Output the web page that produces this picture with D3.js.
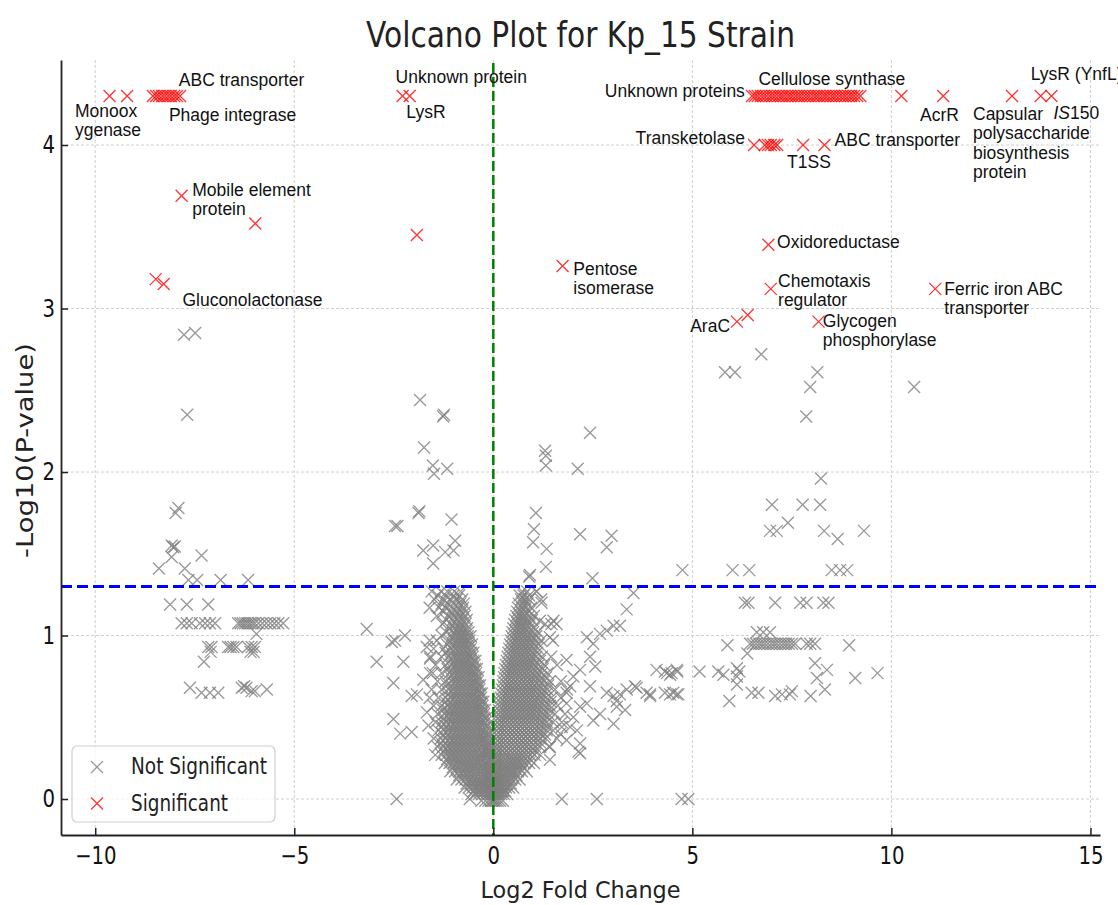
<!DOCTYPE html>
<html>
<head>
<meta charset="utf-8">
<script src="https://cdn.jsdelivr.net/npm/d3@7"></script>
<style>
body{margin:0;background:#fff;}
svg{display:block;}
</style>
</head>
<body>
<script>
// values (log2 fold change, -log10 p)
var sigPoints = [
  [-9.64,4.30],[-9.20,4.30],[-8.55,4.30],[-8.47,4.30],[-8.40,4.30],[-8.32,4.30],[-8.25,4.30],
  [-8.17,4.30],[-8.10,4.30],[-8.02,4.30],[-7.95,4.30],[-7.87,4.30],
  [-2.28,4.30],[-2.10,4.30],
  [-7.83,3.69],[-5.98,3.52],[-1.92,3.45],[-8.48,3.18],[-8.28,3.15],
  [6.50,4.30],[6.57,4.30],[6.64,4.30],[6.72,4.30],[6.79,4.30],[6.86,4.30],[6.94,4.30],[7.01,4.30],
  [7.08,4.30],[7.16,4.30],[7.23,4.30],[7.30,4.30],[7.38,4.30],[7.45,4.30],[7.52,4.30],[7.60,4.30],
  [7.67,4.30],[7.74,4.30],[7.82,4.30],[7.89,4.30],[7.96,4.30],[8.04,4.30],[8.11,4.30],[8.18,4.30],
  [8.26,4.30],[8.33,4.30],[8.40,4.30],[8.48,4.30],[8.55,4.30],[8.62,4.30],[8.70,4.30],[8.77,4.30],
  [8.84,4.30],[8.92,4.30],[8.99,4.30],[9.06,4.30],[9.14,4.30],[9.22,4.30],
  [10.25,4.30],[11.30,4.30],[13.03,4.30],[13.75,4.30],[14.02,4.30],
  [6.55,4.00],[6.82,4.00],[6.90,4.00],[6.97,4.00],[7.06,4.00],[7.13,4.00],[7.78,4.00],[8.32,4.00],
  [6.91,3.39],[6.97,3.12],[1.74,3.26],[11.10,3.12],[6.12,2.92],[6.39,2.96],[8.17,2.92]
];

var nsPoints = [
  // left group
  [-7.77,2.84],[-7.49,2.85],[-7.69,2.35],[-7.91,1.78],[-7.98,1.75],[-8.08,1.55],[-8.04,1.54],[-8.00,1.545],
  [-8.08,1.48],[-7.33,1.49],[-8.40,1.41],[-7.75,1.41],[-7.66,1.34],[-7.44,1.34],[-6.85,1.34],[-6.16,1.34],
  [-8.12,1.19],[-7.70,1.19],[-7.16,1.19],
  [-7.83,1.075],[-7.70,1.075],[-7.58,1.075],[-7.37,1.075],[-7.24,1.075],[-7.12,1.075],[-6.99,1.075],
  [-6.41,1.075],[-6.35,1.075],[-6.29,1.075],[-6.23,1.075],[-6.17,1.075],[-6.11,1.075],[-6.05,1.075],
  [-5.99,1.075],[-5.90,1.075],[-5.80,1.075],[-5.70,1.075],[-5.60,1.075],[-5.50,1.075],[-5.40,1.075],[-5.28,1.075],
  [-5.95,1.01],
  [-7.16,0.93],[-7.08,0.93],[-6.66,0.93],[-6.60,0.93],[-6.53,0.93],[-6.45,0.93],[-6.16,0.93],[-6.07,0.93],
  [-5.99,0.93],[-7.10,0.90],[-6.10,0.90],[-6.02,0.90],
  [-7.27,0.84],
  [-7.62,0.68],[-7.33,0.65],[-7.12,0.65],[-6.91,0.65],[-6.32,0.68],[-6.26,0.69],[-6.20,0.68],[-6.07,0.66],
  [-5.99,0.66],[-5.69,0.67],
  // left of the cone
  [-3.18,1.04],[-2.55,0.96],[-2.47,0.97],[-2.22,1.00],[-2.93,0.84],[-2.26,0.84],[-2.51,0.71],[-2.51,0.49],
  [-2.34,0.40],[-2.05,0.41],[-2.43,0.00],[-0.59,0.00],[-2.05,0.63],[-1.92,0.64],[-1.67,0.53],[-1.63,0.45],
  [-1.76,0.73],[-1.59,0.77],[-1.67,0.93],[-1.59,0.86],[-1.30,1.00],
  [-1.84,2.44],[-1.26,2.34],[-1.24,2.35],[-1.74,2.15],[-1.52,2.04],[-1.49,1.99],[-1.16,2.02],[-1.88,1.75],
  [-1.86,1.76],[-1.05,1.71],[-2.47,1.67],[-2.41,1.67],[-1.76,1.52],[-1.51,1.55],[-1.51,1.44],[-1.21,1.51],
  [-1.00,1.52],[-0.96,1.58],
  // right of the cone
  [2.43,2.24],[1.30,2.13],[1.32,2.10],[1.32,2.04],[2.12,2.02],[1.07,1.75],[1.02,1.65],[1.00,1.57],
  [1.34,1.53],[2.18,1.62],[2.97,1.61],[2.85,1.54],[1.32,1.42],[2.49,1.35],[0.90,1.36],[0.92,1.37],
  [1.09,1.27],[1.21,1.20],
  [1.51,1.09],[1.59,1.07],[1.42,0.99],[1.17,1.09],
  [2.35,0.99],[2.51,0.95],[2.68,1.01],[2.85,1.03],[3.02,1.06],[3.18,1.06],[3.35,1.16],[3.52,1.26],
  [2.43,0.87],[2.56,0.81],[2.01,0.75],[2.18,0.79],[1.84,0.85],[1.93,0.69],[1.84,0.65],[2.43,0.69],
  [2.85,0.65],[3.10,0.60],[3.35,0.67],[3.60,0.68],[3.85,0.65],[3.31,0.545],[3.02,0.46],[2.68,0.52],
  [2.10,0.42],[1.93,0.44],[2.18,0.34],[2.18,0.28],[1.68,0.40],[1.42,0.32],[1.42,0.24],[1.84,0.585],
  [2.01,0.50],[2.18,0.565],[2.35,0.585],[2.51,0.48],[3.10,0.565],[1.72,0.44],[1.84,0.36],[2.14,0.29],
  [3.56,0.69],[3.18,0.64],[3.02,0.63],[3.94,0.64],[4.31,0.65],[4.52,0.65],[4.65,0.64],
  [4.10,0.79],[4.31,0.78],[4.44,0.76],[4.61,0.79],
  [1.72,0.00],[2.60,0.00],[4.73,0.00],[4.90,0.00],
  // right group
  [6.73,2.72],[5.82,2.61],[6.07,2.61],[8.14,2.61],[7.96,2.52],[10.57,2.52],[7.86,2.34],[8.23,1.96],
  [7.00,1.80],[7.77,1.80],[8.21,1.80],[6.95,1.64],[7.12,1.64],[7.40,1.69],[8.31,1.64],[8.65,1.59],
  [9.31,1.64],[4.75,1.40],[6.01,1.40],[6.43,1.40],[8.50,1.40],[8.71,1.40],[8.89,1.40],
  [6.32,1.20],[6.41,1.20],[7.08,1.20],[7.71,1.20],[7.87,1.20],[8.29,1.20],[8.42,1.20],
  [6.62,1.02],[6.78,1.02],[6.95,1.02],
  [6.45,0.95],[6.52,0.95],[6.60,0.95],[6.68,0.95],[6.75,0.95],[6.82,0.95],[6.90,0.95],[6.98,0.95],
  [7.05,0.95],[7.12,0.95],[7.20,0.95],[7.28,0.95],[7.35,0.95],[7.42,0.95],[7.50,0.95],[7.58,0.95],
  [5.88,0.94],[7.87,0.95],[7.96,0.95],[8.08,0.95],[8.94,0.94],[6.38,0.89],
  [4.36,0.77],[4.48,0.77],[4.62,0.78],[5.18,0.78],[5.65,0.78],[5.78,0.76],[6.12,0.80],[6.18,0.78],
  [6.12,0.75],[6.12,0.70],
  [3.94,0.63],[4.44,0.64],[4.61,0.64],[5.93,0.60],[6.49,0.65],[6.66,0.65],[7.08,0.63],[7.25,0.64],
  [7.50,0.66],[7.45,0.64],[7.97,0.63],
  [8.08,0.83],[8.38,0.79],[8.13,0.74],[8.33,0.67],[9.09,0.74],[9.65,0.77]
];

// dense cone around zero: rows of [-log10 p, [log2 fold changes]]
var coneLeft = [
  [1.27,[-1.55,-1.32,-1.16,-0.98,-0.82]],
  [1.245,[-1.40,-1.20,-1.00,-0.86]],
  [1.22,[-1.48,-1.25,-1.08,-0.92,-0.78]],
  [1.195,[-1.30,-1.14,-0.98,-0.83,-0.74]],
  [1.17,[-1.60,-1.36,-1.20,-1.02,-0.88,-0.76]],
  [1.145,[-1.25,-1.06,-0.92,-0.80,-0.70]],
  [1.12,[-1.42,-1.12,-0.98,-0.84,-0.72]],
  [1.095,[-1.18,-1.02,-0.90,-0.78,-0.67]],
  [1.07,[-1.28,-1.06,-0.94,-0.82,-0.70]],
  [1.045,[-1.10,-0.98,-0.86,-0.76,-0.66]],
  [1.02,[-1.18,-1.00,-0.90,-0.80,-0.70,-0.62]],
  [0.995,[-1.04,-0.94,-0.84,-0.74,-0.64,-0.57]],
  [0.97,[-1.60,-1.42,-1.10,-0.98,-0.88,-0.78,-0.68,-0.60]],
  [0.945,[-1.16,-1.02,-0.92,-0.82,-0.72,-0.62,-0.54]],
  [0.92,[-1.50,-1.25,-1.06,-0.96,-0.86,-0.76,-0.66,-0.56]],
  [0.895,[-1.20,-1.05,-0.95,-0.85,-0.75,-0.65,-0.56,-0.50]],
  [0.87,[-1.58,-1.30,-1.12,-1.00,-0.90,-0.80,-0.70,-0.60,-0.52]],
  [0.845,[-1.08,-0.98,-0.88,-0.78,-0.68,-0.58,-0.50,-0.45]],
  [0.82,[-1.45,-1.20,-1.04,-0.94,-0.84,-0.74,-0.64,-0.54,-0.47]],
  [0.795,[-1.15,-1.02,-0.92,-0.82,-0.72,-0.62,-0.53,-0.46,-0.41]],
  [0.77,[-1.52,-1.30,-1.10,-0.98,-0.88,-0.78,-0.68,-0.58,-0.50,-0.43]],
  [0.745,[-1.08,-0.98,-0.88,-0.78,-0.68,-0.58,-0.50,-0.43,-0.37]],
  [0.72,[-1.40,-1.20,-1.04,-0.94,-0.84,-0.74,-0.64,-0.54,-0.46,-0.39]],
  [0.695,[-1.16,-1.05,-0.95,-0.85,-0.75,-0.65,-0.55,-0.46,-0.38,-0.33]],
  [0.67,[-1.55,-1.30,-1.12,-1.00,-0.90,-0.80,-0.70,-0.60,-0.50,-0.42,-0.35]],
  [0.645,[-1.12,-1.00,-0.90,-0.80,-0.70,-0.60,-0.50,-0.42,-0.34,-0.29]],
  [0.62,[-1.60,-1.38,-1.20,-1.06,-0.96,-0.86,-0.76,-0.66,-0.56,-0.46,-0.38,-0.31]],
  [0.595,[-1.20,-1.08,-0.97,-0.87,-0.77,-0.67,-0.57,-0.47,-0.38,-0.30,-0.25]],
  [0.57,[-1.50,-1.30,-1.14,-1.02,-0.92,-0.82,-0.72,-0.62,-0.52,-0.42,-0.34,-0.27]],
  [0.545,[-1.26,-1.15,-1.05,-0.95,-0.85,-0.75,-0.65,-0.55,-0.45,-0.35,-0.27,-0.21]],
  [0.52,[-1.40,-1.22,-1.10,-1.00,-0.90,-0.80,-0.70,-0.60,-0.50,-0.40,-0.30,-0.23]],
  [0.495,[-1.24,-1.12,-1.01,-0.91,-0.81,-0.71,-0.61,-0.51,-0.41,-0.31,-0.23,-0.18]],
  [0.47,[-1.45,-1.30,-1.18,-1.06,-0.96,-0.86,-0.76,-0.66,-0.56,-0.46,-0.36,-0.27,-0.20]],
  [0.445,[-1.30,-1.18,-1.07,-0.97,-0.87,-0.77,-0.67,-0.57,-0.47,-0.37,-0.28,-0.20,-0.15]],
  [0.42,[-1.38,-1.24,-1.12,-1.02,-0.92,-0.82,-0.72,-0.62,-0.52,-0.42,-0.32,-0.24,-0.17]],
  [0.395,[-1.26,-1.14,-1.03,-0.93,-0.83,-0.73,-0.63,-0.53,-0.43,-0.33,-0.24,-0.17,-0.13]],
  [0.37,[-1.50,-1.32,-1.20,-1.08,-0.98,-0.88,-0.78,-0.68,-0.58,-0.48,-0.38,-0.28,-0.20,-0.14]],
  [0.345,[-1.32,-1.20,-1.09,-0.99,-0.89,-0.79,-0.69,-0.59,-0.49,-0.39,-0.30,-0.21,-0.15,-0.10]],
  [0.32,[-1.40,-1.26,-1.14,-1.04,-0.94,-0.84,-0.74,-0.64,-0.54,-0.44,-0.34,-0.25,-0.17,-0.12]],
  [0.295,[-1.24,-1.13,-1.03,-0.93,-0.83,-0.73,-0.63,-0.53,-0.43,-0.34,-0.25,-0.17,-0.12,-0.08]],
  [0.27,[-1.46,-1.30,-1.18,-1.08,-0.98,-0.88,-0.78,-0.68,-0.58,-0.48,-0.38,-0.29,-0.21,-0.14,-0.10]],
  [0.245,[-1.16,-1.05,-0.95,-0.85,-0.75,-0.65,-0.55,-0.45,-0.35,-0.27,-0.19,-0.12,-0.07]],
  [0.22,[-1.22,-1.10,-1.00,-0.90,-0.80,-0.70,-0.60,-0.50,-0.40,-0.31,-0.23,-0.16,-0.09]],
  [0.195,[-1.02,-0.91,-0.81,-0.71,-0.61,-0.51,-0.42,-0.33,-0.24,-0.16,-0.10,-0.05]],
  [0.17,[-1.08,-0.96,-0.86,-0.76,-0.66,-0.56,-0.46,-0.37,-0.28,-0.20,-0.13,-0.07]],
  [0.145,[-0.86,-0.75,-0.65,-0.55,-0.46,-0.37,-0.28,-0.20,-0.13,-0.07,-0.03]],
  [0.12,[-0.92,-0.80,-0.70,-0.60,-0.50,-0.41,-0.32,-0.24,-0.16,-0.10,-0.05]],
  [0.095,[-0.67,-0.57,-0.48,-0.39,-0.30,-0.22,-0.15,-0.09,-0.04]],
  [0.07,[-0.72,-0.62,-0.52,-0.43,-0.34,-0.26,-0.18,-0.11,-0.06]],
  [0.05,[-0.50,-0.40,-0.32,-0.24,-0.17,-0.10,-0.05,-0.02]],
  [0.03,[-0.55,-0.45,-0.36,-0.28,-0.20,-0.13,-0.07,-0.03]],
  [-0.01,[-0.30,-0.20,-0.12,-0.06,-0.02]]
];
var coneRight = [
  [1.27,[0.72,0.85,1.08]],
  [1.245,[0.66,0.76,0.90]],
  [1.22,[0.70,0.80,0.90,1.20]],
  [1.195,[0.64,0.75,0.86]],
  [1.17,[0.62,0.72,0.82,0.95]],
  [1.145,[0.60,0.70,0.80,0.90]],
  [1.12,[0.58,0.68,0.78,0.90,1.02]],
  [1.095,[0.55,0.65,0.75,0.86,0.97]],
  [1.07,[0.52,0.62,0.72,0.82,0.92,1.30,1.46]],
  [1.045,[0.50,0.60,0.70,0.80,0.90,1.02]],
  [1.02,[0.48,0.58,0.68,0.78,0.88,1.00,1.12]],
  [0.995,[0.46,0.56,0.66,0.76,0.86,0.97,1.08]],
  [0.97,[0.44,0.54,0.64,0.74,0.84,0.94,1.06,1.20,1.50]],
  [0.945,[0.42,0.52,0.62,0.72,0.82,0.92,1.03,1.14]],
  [0.92,[0.40,0.50,0.60,0.70,0.80,0.90,1.00,1.12]],
  [0.895,[0.38,0.48,0.58,0.68,0.78,0.88,0.98,1.10]],
  [0.87,[0.36,0.46,0.56,0.66,0.76,0.86,0.96,1.08,1.22,1.45]],
  [0.845,[0.34,0.44,0.54,0.64,0.74,0.84,0.94,1.05,1.17]],
  [0.82,[0.32,0.42,0.52,0.62,0.72,0.82,0.92,1.02,1.14,1.28,1.60]],
  [0.795,[0.30,0.40,0.50,0.60,0.70,0.80,0.90,1.00,1.12,1.24]],
  [0.77,[0.28,0.38,0.48,0.58,0.68,0.78,0.88,0.98,1.10,1.22,1.36]],
  [0.745,[0.27,0.37,0.47,0.57,0.67,0.77,0.87,0.97,1.08,1.20,1.32]],
  [0.72,[0.25,0.35,0.45,0.55,0.65,0.75,0.85,0.95,1.05,1.16,1.28,1.42,1.70]],
  [0.695,[0.24,0.34,0.44,0.54,0.64,0.74,0.84,0.94,1.04,1.14,1.26,1.38]],
  [0.67,[0.22,0.32,0.42,0.52,0.62,0.72,0.82,0.92,1.02,1.12,1.24,1.36,1.55,1.85]],
  [0.645,[0.20,0.30,0.40,0.50,0.60,0.70,0.80,0.90,1.00,1.10,1.22,1.34]],
  [0.62,[0.19,0.29,0.39,0.49,0.59,0.69,0.79,0.89,0.99,1.09,1.20,1.32,1.46,1.70]],
  [0.595,[0.17,0.27,0.37,0.47,0.57,0.67,0.77,0.87,0.97,1.07,1.18,1.30,1.44]],
  [0.57,[0.16,0.26,0.36,0.46,0.56,0.66,0.76,0.86,0.96,1.06,1.16,1.28,1.42,1.62]],
  [0.545,[0.14,0.24,0.34,0.44,0.54,0.64,0.74,0.84,0.94,1.04,1.14,1.26,1.40]],
  [0.52,[0.13,0.23,0.33,0.43,0.53,0.63,0.73,0.83,0.93,1.03,1.13,1.25,1.38,1.55,1.80]],
  [0.495,[0.12,0.21,0.31,0.41,0.51,0.61,0.71,0.81,0.91,1.01,1.11,1.23,1.36]],
  [0.47,[0.11,0.20,0.30,0.40,0.50,0.60,0.70,0.80,0.90,1.00,1.10,1.22,1.35,1.50,1.72]],
  [0.445,[0.10,0.19,0.29,0.39,0.49,0.59,0.69,0.79,0.89,0.99,1.09,1.21,1.34]],
  [0.42,[0.09,0.18,0.28,0.38,0.48,0.58,0.68,0.78,0.88,0.98,1.08,1.20,1.34,1.50]],
  [0.395,[0.08,0.17,0.27,0.37,0.47,0.57,0.67,0.77,0.87,0.97,1.07,1.19,1.30]],
  [0.37,[0.07,0.16,0.26,0.36,0.46,0.56,0.66,0.76,0.86,0.96,1.06,1.18,1.32,1.60]],
  [0.345,[0.06,0.15,0.25,0.35,0.45,0.55,0.65,0.75,0.85,0.95,1.06,1.18]],
  [0.32,[0.06,0.14,0.24,0.34,0.44,0.54,0.64,0.74,0.84,0.94,1.05,1.18,1.40]],
  [0.295,[0.05,0.13,0.23,0.33,0.43,0.53,0.63,0.73,0.83,0.93,1.04]],
  [0.27,[0.05,0.12,0.22,0.32,0.42,0.52,0.62,0.72,0.82,0.92,1.04,1.18]],
  [0.245,[0.04,0.11,0.20,0.30,0.40,0.50,0.60,0.70,0.80,0.92]],
  [0.22,[0.04,0.10,0.19,0.28,0.38,0.48,0.58,0.68,0.78,0.90,1.02]],
  [0.195,[0.03,0.09,0.17,0.26,0.35,0.45,0.55,0.65,0.76]],
  [0.17,[0.03,0.08,0.16,0.24,0.33,0.42,0.52,0.62,0.72,0.84]],
  [0.145,[0.03,0.08,0.14,0.22,0.30,0.39,0.48,0.58]],
  [0.12,[0.03,0.07,0.13,0.20,0.28,0.36,0.45,0.55,0.66]],
  [0.095,[0.02,0.06,0.12,0.19,0.27,0.35,0.44]],
  [0.07,[0.02,0.06,0.11,0.17,0.24,0.32,0.40,0.50]],
  [0.05,[0.02,0.05,0.10,0.16,0.23,0.30]],
  [0.03,[0.02,0.05,0.09,0.14,0.20,0.27,0.35]],
  [-0.01,[0.02,0.06,0.11,0.17,0.24]]
];

// gene labels, anchored in data coordinates
var geneLabels = [
  {lines:["ABC transporter"], x:-7.90, y:4.361},
  {lines:["Monoox","ygenase"], x:-10.51, y:4.173},
  {lines:["Phage integrase"], x:-8.15, y:4.149},
  {lines:["Unknown protein"], x:-2.455, y:4.377},
  {lines:["LysR"], x:-2.186, y:4.163},
  {lines:["Mobile element","protein"], x:-7.563, y:3.690},
  {lines:["Gluconolactonase"], x:-7.81, y:3.017},
  {lines:["Cellulose synthase"], x:6.661, y:4.367},
  {lines:["Unknown proteins"], x:6.319, y:4.295, end:true},
  {lines:["AcrR"], x:10.72, y:4.149},
  {lines:["Capsular","polysaccharide","biosynthesis","protein"], x:12.05, y:4.153},
  {lines:["LysR (YnfL)"], x:13.50, y:4.398},
  {lines:[[["IS",true],["150",false]]], x:14.07, y:4.159},
  {lines:["Transketolase"], x:6.319, y:4.006, end:true},
  {lines:["ABC transporter"], x:8.573, y:3.996},
  {lines:["T1SS"], x:7.379, y:3.861},
  {lines:["Oxidoreductase"], x:7.128, y:3.368},
  {lines:["Pentose","isomerase"], x:2.01, y:3.205},
  {lines:["Chemotaxis","regulator"], x:7.153, y:3.133},
  {lines:["Ferric iron ABC","transporter"], x:11.33, y:3.083},
  {lines:["AraC"], x:5.947, y:2.856, end:true},
  {lines:["Glycogen","phosphorylase"], x:8.276, y:2.890}
];

var xTicks = [-10,-5,0,5,10,15];
var yTicks = [0,1,2,3,4];
var pCutoff = 1.3;   // -log10(0.05)
var fcCenter = 0;
var legendItems = [{name:"Not Significant", color:"#808080"},{name:"Significant", color:"#ff0000"}];

var W = 1118, H = 905;
var plotL = 61, plotR = 1100, plotT = 60, plotB = 835;

var x = d3.scaleLinear().domain([-10.86,15.24]).range([plotL,plotR]);
var y = d3.scaleLinear().domain([-0.22,4.52]).range([plotB,plotT]);

var svg = d3.select("body").append("svg")
    .attr("width",W).attr("height",H)
    .style("font-family","'DejaVu Sans', sans-serif");

var xMark = "M-6,-6L6,6M-6,6L6,-6";

function squeeze(sel,k){
  sel.each(function(){
    var w = this.getComputedTextLength();
    d3.select(this).attr("textLength",w*k).attr("lengthAdjust","spacingAndGlyphs");
  });
}

// grid
svg.append("g").selectAll("line").data(xTicks).enter().append("line")
    .attr("x1",function(d){return x(d);}).attr("x2",function(d){return x(d);})
    .attr("y1",plotT).attr("y2",plotB)
    .attr("stroke","#cfcfcf").attr("stroke-width",1).attr("stroke-dasharray","3,2");
svg.append("g").selectAll("line").data(yTicks).enter().append("line")
    .attr("x1",plotL).attr("x2",plotR)
    .attr("y1",function(d){return y(d);}).attr("y2",function(d){return y(d);})
    .attr("stroke","#cfcfcf").attr("stroke-width",1).attr("stroke-dasharray","3,2");

// points
var conePts = [];
coneLeft.concat(coneRight).forEach(function(r){
  r[1].forEach(function(v){ conePts.push([v,r[0]]); });
});
var grayPts = conePts.concat(nsPoints);

svg.append("g").selectAll("path").data(grayPts).enter().append("path")
    .attr("d",xMark)
    .attr("transform",function(d){return "translate("+x(d[0])+","+y(d[1])+")";})
    .attr("fill","none").attr("stroke","#808080").attr("stroke-width",1.35).attr("stroke-opacity",0.8);

svg.append("g").selectAll("path").data(sigPoints).enter().append("path")
    .attr("d",xMark)
    .attr("transform",function(d){return "translate("+x(d[0])+","+y(d[1])+")";})
    .attr("fill","none").attr("stroke","#ff0000").attr("stroke-width",1.3).attr("stroke-opacity",0.8);

// threshold lines
svg.append("line")
    .attr("x1",plotL).attr("x2",plotR)
    .attr("y1",y(pCutoff)).attr("y2",y(pCutoff))
    .attr("stroke","#0000ff").attr("stroke-width",3).attr("stroke-dasharray","11,5");
svg.append("line")
    .attr("x1",x(fcCenter)).attr("x2",x(fcCenter))
    .attr("y1",plotT+3).attr("y2",plotB)
    .attr("stroke","#008000").attr("stroke-width",2.5).attr("stroke-dasharray","10,4");

// axes
var xAxis = svg.append("g").attr("transform","translate(0,"+plotB+")")
    .call(d3.axisBottom(x).tickValues(xTicks).tickSizeInner(-7).tickSizeOuter(0).tickPadding(12)
      .tickFormat(function(d){return d<0 ? "\u2212"+Math.abs(d) : d;}));
var yAxis = svg.append("g").attr("transform","translate("+plotL+",0)")
    .call(d3.axisLeft(y).tickValues(yTicks).tickSizeInner(-7).tickSizeOuter(0).tickPadding(6)
      .tickFormat(d3.format("d")));
[xAxis,yAxis].forEach(function(a){
  a.select(".domain").attr("stroke","#222").attr("stroke-width",1.8);
  a.selectAll(".tick line").attr("stroke","#222").attr("stroke-width",1.5);
  a.selectAll(".tick text").attr("fill","#111").style("font-size","24px").style("font-family","'DejaVu Sans', sans-serif");
  squeeze(a.selectAll(".tick text"),0.82);
});

// gene labels
var lab = svg.append("g").style("font-family","'Liberation Sans', Arial, sans-serif")
    .style("font-size","17.5px").attr("fill","#111");
geneLabels.forEach(function(g){
  var t = lab.append("text").attr("x",x(g.x)).attr("y",y(g.y))
      .attr("text-anchor",g.end ? "end" : "start");
  g.lines.forEach(function(line,i){
    var segs = typeof line === "string" ? [[line,false]] : line;
    segs.forEach(function(s,j){
      var ts = t.append("tspan").text(s[0]);
      if(j===0){ ts.attr("x",x(g.x)).attr("dy", i===0 ? 0 : 19.4); }
      if(s[1]) ts.style("font-style","italic");
    });
  });
});

// titles
svg.append("text").attr("x",(plotL+plotR)/2).attr("y",47)
    .attr("text-anchor","middle").attr("fill","#222")
    .style("font-size","36px").attr("textLength",429).attr("lengthAdjust","spacingAndGlyphs")
    .text("Volcano Plot for Kp_15 Strain");
svg.append("text").attr("x",(plotL+plotR)/2).attr("y",898)
    .attr("text-anchor","middle").attr("fill","#222")
    .style("font-size","23px").attr("textLength",200).attr("lengthAdjust","spacingAndGlyphs")
    .text("Log2 Fold Change");
svg.append("text").attr("transform","translate(33,"+((plotT+plotB)/2+3)+") rotate(-90)")
    .attr("text-anchor","middle").attr("fill","#222")
    .style("font-size","23px").attr("textLength",215).attr("lengthAdjust","spacingAndGlyphs")
    .text("-Log10(P-value)");

// legend
var lg = svg.append("g");
lg.append("rect").attr("x",72).attr("y",746).attr("width",203).attr("height",76).attr("rx",5)
    .attr("fill","#fff").attr("fill-opacity",0.8).attr("stroke","#d0d0d0").attr("stroke-width",1.2);
var items = lg.selectAll("g.item").data(legendItems).enter().append("g")
    .attr("transform",function(d,i){return "translate(0,"+(767+i*36.5)+")";});
items.append("path").attr("d",xMark).attr("transform","translate(97,0)")
    .attr("fill","none").attr("stroke",function(d){return d.color;}).attr("stroke-width",1.3).attr("stroke-opacity",0.8);
items.append("text").attr("x",131).attr("y",7).attr("fill","#222")
    .style("font-size","23px")
    .attr("textLength",function(d,i){return i===0 ? 136 : 97;}).attr("lengthAdjust","spacingAndGlyphs")
    .text(function(d){return d.name;});
</script>
</body>
</html>
